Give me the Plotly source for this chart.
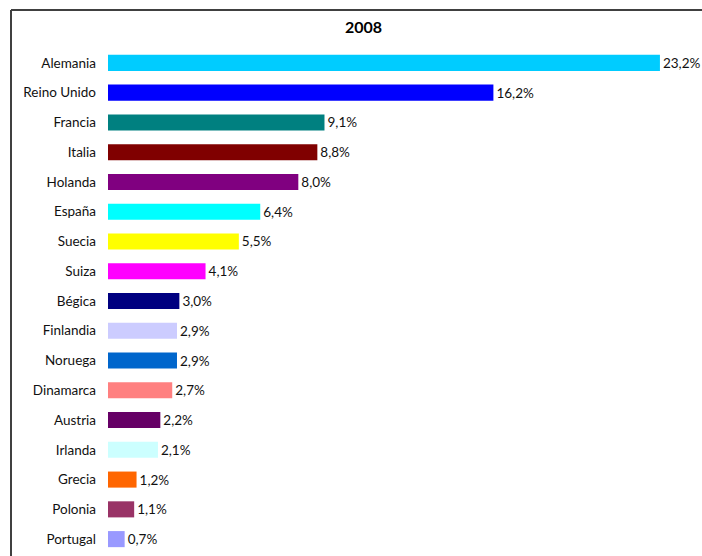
import plotly.graph_objects as go

countries = ["Alemania", "Reino Unido", "Francia", "Italia", "Holanda", "España",
             "Suecia", "Suiza", "Bégica", "Finlandia", "Noruega", "Dinamarca",
             "Austria", "Irlanda", "Grecia", "Polonia", "Portugal"]
shares = [23.2, 16.2, 9.1, 8.8, 8.0, 6.4, 5.5, 4.1, 3.0, 2.9, 2.9, 2.7,
          2.2, 2.1, 1.2, 1.1, 0.7]
colors = ["#00CCFF", "#0000FF", "#008080", "#800000", "#800080", "#00FFFF",
          "#FFFF00", "#FF00FF", "#000080", "#CCCCFF", "#0066CC", "#FF8080",
          "#660066", "#CCFFFF", "#FF6600", "#993366", "#9999FF"]
title = "2008"

labels = [f"{v:.1f}".replace(".", ",") + "%" for v in shares]

W, H = 702, 556
L, R, T, B = 108, 12, 48, 2
plot_w = W - L - R
plot_h = H - T - B

fig = go.Figure(go.Bar(
    x=shares, y=countries, orientation="h",
    marker=dict(color=colors, line=dict(width=0)),
    text=labels, textposition="outside", cliponaxis=False,
    textfont=dict(family="Lato", size=13.5, color="#111111"),
    hoverinfo="skip",
))

# frame around the chart (pixel positions converted to paper coordinates)
def px_x(p):
    return (p - L) / plot_w

def px_y(p):
    return (H - B - p) / plot_h

frame = dict(color="#404040", width=2)
fig.add_shape(type="line", xref="paper", yref="paper",
              x0=px_x(11), x1=px_x(710), y0=px_y(10), y1=px_y(10), line=frame)
fig.add_shape(type="line", xref="paper", yref="paper",
              x0=px_x(11), x1=px_x(11), y0=px_y(10), y1=px_y(570), line=frame)

fig.add_annotation(text=f"<b>{title}</b>", xref="paper", yref="paper",
                   x=px_x(363), y=px_y(26), showarrow=False,
                   font=dict(family="Lato", size=16, color="#000000"),
                   xanchor="center", yanchor="middle")

fig.update_layout(
    width=W, height=H,
    margin=dict(l=L, r=R, t=T, b=B),
    paper_bgcolor="white", plot_bgcolor="white",
    bargap=0.46, showlegend=False,
    xaxis=dict(range=[0, plot_w / 23.79], visible=False, fixedrange=True),
    yaxis=dict(autorange="reversed", showgrid=False, zeroline=False,
               showline=False, ticks="", ticklabelstandoff=11,
               tickfont=dict(family="Lato", size=13.5, color="#111111")),
)

fig.write_html("out.html")
